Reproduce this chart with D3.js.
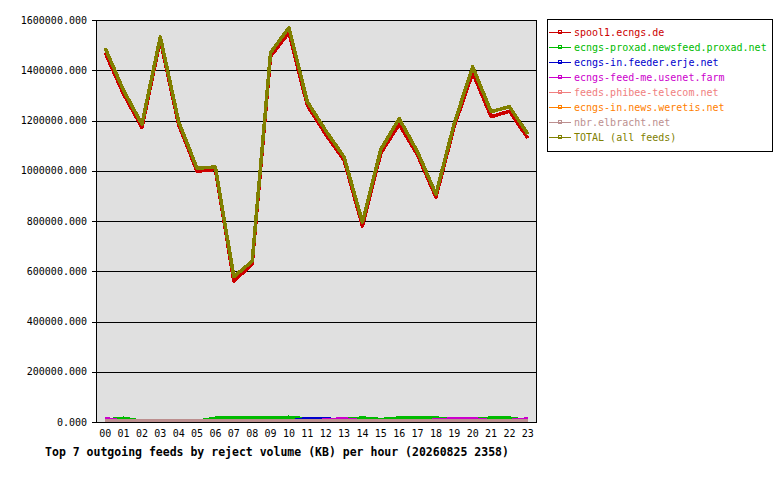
<!DOCTYPE html>
<html>
<head>
<meta charset="utf-8">
<script src="https://cdn.jsdelivr.net/npm/d3@7"></script>
<style>
body{margin:0;background:#fff;}
</style>
</head>
<body>
<svg id="graph"></svg>
<script>
// hours on the x axis
var hours = ["00","01","02","03","04","05","06","07","08","09","10","11",
             "12","13","14","15","16","17","18","19","20","21","22","23"];

var yTicks = [0,200000,400000,600000,800000,1000000,1200000,1400000,1600000];

// reject volume (KB) per hour, one array per feed
var spool1 = [1470000,1305000,1172000,1520000,1182000,998000,1005000,561000,628000,1455000,1550000,1260000,
              1145000,1042000,780000,1070000,1185000,1062000,895000,1178000,1390000,1215000,1237000,1130000];
var proxad = [8000,15000,3000,3000,3000,3000,15000,15000,15000,15000,19000,12000,
              9000,10000,16000,10000,16000,16000,16000,9000,9000,16000,16000,5000];
var erje = [1000,1000,1000,1000,1000,1000,1000,1000,1000,1000,3000,14000,
            14000,3000,1000,1000,1000,1000,1000,1000,1000,1000,1000,1000];
var usenetFarm = [14000,3000,2000,2000,2000,2000,2000,2000,2000,2000,2000,2000,
                  8000,13000,4000,3000,3000,3000,8000,13000,13000,5000,6000,12000];
var phibee = [1000,1000,1000,1000,1000,1000,1000,1000,1000,1000,1000,1000,
              1000,1000,1000,1000,1000,1000,1000,1000,1000,1000,1000,1000];
var weretis = [1000,1000,1000,1000,1000,1000,1000,1000,1000,1000,1000,1000,
               1000,1000,1000,1000,1000,1000,1000,1000,1000,1000,1000,1000];
var elbracht = [5000,5000,5000,5000,5000,5000,5000,5000,5000,5000,5000,5000,
                5000,5000,5000,5000,5000,5000,5000,5000,5000,5000,5000,5000];
var total = [1488000,1320000,1185000,1533000,1195000,1010000,1015000,578000,640000,1470000,1570000,1275000,
             1160000,1055000,796000,1085000,1208000,1075000,907000,1190000,1414000,1235000,1255000,1146000];

var feedNames = ["spool1.ecngs.de","ecngs-proxad.newsfeed.proxad.net","ecngs-in.feeder.erje.net",
                 "ecngs-feed-me.usenet.farm","feeds.phibee-telecom.net","ecngs-in.news.weretis.net",
                 "nbr.elbracht.net","TOTAL (all feeds)"];
var feedValues = [spool1,proxad,erje,usenetFarm,phibee,weretis,elbracht,total];
var feedColors = ["#cc0000","#00bb00","#0000cc","#cc00cc","#f08080","#ff8000","#bc8f8f","#808000"];

var title = "Top 7 outgoing feeds by reject volume (KB) per hour (20260825 2358)";

var screen = {width:780,height:480};
var plot = {left:96,right:537,top:20,bottom:422};
var mono = "DejaVu Sans Mono, monospace";

var svg = d3.select("#graph")
    .attr("width",screen.width)
    .attr("height",screen.height);

var xScale = d3.scaleBand()
    .domain(hours)
    .range([plot.left,plot.right]);

var yScale = d3.scaleLinear()
    .domain([0,1600000])
    .range([plot.bottom,plot.top]);

var xMid = function(h){
    return xScale(h) + xScale.bandwidth()/2;
}

// plot background
svg.append("rect")
    .attr("x",plot.left)
    .attr("y",plot.top)
    .attr("width",plot.right-plot.left)
    .attr("height",plot.bottom-plot.top)
    .attr("fill","#e0e0e0");

// horizontal grid + y labels
var yAxis = svg.append("g")
    .attr("transform","translate("+plot.left+",0)")
    .call(d3.axisLeft(yScale)
        .tickValues(yTicks)
        .tickSizeInner(-(plot.right-plot.left))
        .tickSizeOuter(0)
        .tickPadding(9)
        .tickFormat(d3.format(".3f")));
yAxis.select(".domain").remove();
yAxis.selectAll("line")
    .attr("x1",-4)
    .attr("stroke","#000")
    .attr("shape-rendering","crispEdges");
yAxis.selectAll("text")
    .style("font-size","10px")
    .style("font-family",mono)
    .attr("fill","#000");

// vertical grid + x labels
var xAxis = svg.append("g")
    .attr("transform","translate(0,"+plot.bottom+")")
    .call(d3.axisBottom(xScale)
        .tickSizeInner(-(plot.bottom-plot.top))
        .tickSizeOuter(0)
        .tickPadding(8));
xAxis.select(".domain").remove();
xAxis.selectAll("line")
    .attr("y2",1)
    .attr("stroke","#000")
    .attr("shape-rendering","crispEdges");
xAxis.selectAll("text")
    .style("font-size","10px")
    .style("font-family",mono)
    .attr("fill","#000");

// feed lines, in order so TOTAL sits on top
var line = d3.line()
    .x(function(d,i){ return xMid(hours[i]); })
    .y(function(d){ return yScale(d); });

svg.append("g")
    .selectAll("path")
    .data(feedValues)
    .enter()
    .append("path")
    .attr("d",line)
    .attr("fill","none")
    .attr("stroke",function(d,i){ return feedColors[i]; })
    .attr("stroke-width",3.5)
    .attr("stroke-linejoin","round")
    .attr("shape-rendering","crispEdges");

// frame
svg.append("rect")
    .attr("x",plot.left+0.5)
    .attr("y",plot.top+0.5)
    .attr("width",plot.right-plot.left-1)
    .attr("height",plot.bottom-plot.top)
    .attr("fill","none")
    .attr("stroke","#000");

// title
svg.append("text")
    .attr("x",277)
    .attr("y",456)
    .attr("text-anchor","middle")
    .style("font-family",mono)
    .style("font-weight","bold")
    .style("font-size","11.5px")
    .attr("fill","#000")
    .text(title);

// legend
var legend = svg.append("g");
legend.append("rect")
    .attr("x",547.5)
    .attr("y",19.5)
    .attr("width",225)
    .attr("height",132)
    .attr("fill","#fff")
    .attr("stroke","#000");

var rows = legend.selectAll("g.row")
    .data(feedNames)
    .enter()
    .append("g")
    .attr("class","row")
    .attr("transform",function(d,i){ return "translate(0,"+(32+i*15)+")"; });

rows.append("line")
    .attr("x1",549)
    .attr("x2",571)
    .attr("y1",0.5)
    .attr("y2",0.5)
    .attr("stroke",function(d,i){ return feedColors[i]; })
    .attr("shape-rendering","crispEdges");

rows.append("rect")
    .attr("x",558)
    .attr("y",-1.5)
    .attr("width",3)
    .attr("height",3)
    .attr("fill","none")
    .attr("stroke",function(d,i){ return feedColors[i]; })
    .attr("stroke-width",1)
    .attr("shape-rendering","crispEdges");

rows.append("text")
    .attr("x",574)
    .attr("y",4)
    .style("font-size","10px")
    .style("font-family",mono)
    .attr("fill",function(d,i){ return feedColors[i]; })
    .text(function(d){ return d; });
</script>
</body>
</html>
